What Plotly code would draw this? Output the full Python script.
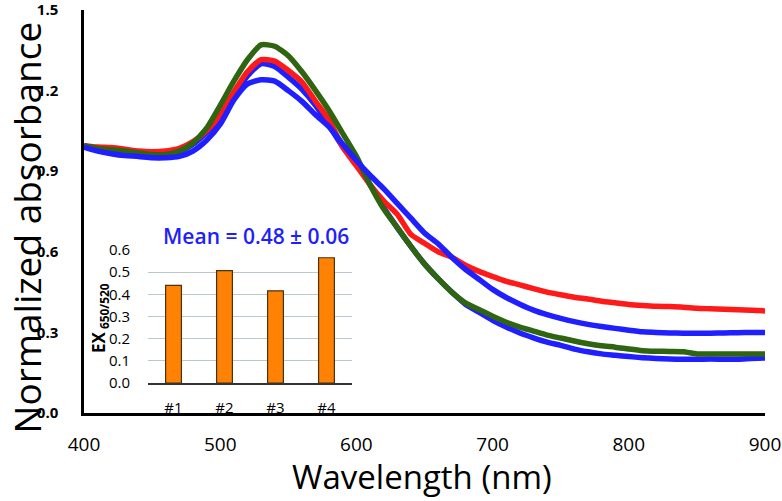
import plotly.graph_objects as go

wavelength = list(range(400, 901, 10))

red = [0.995, 0.99, 0.988, 0.982, 0.975, 0.972, 0.975, 0.985, 1.01, 1.05,
       1.11, 1.195, 1.27, 1.315, 1.31, 1.275, 1.232, 1.16, 1.09, 0.99,
       0.92, 0.85, 0.79, 0.74, 0.665, 0.632, 0.60, 0.58, 0.55, 0.527,
       0.508, 0.49, 0.477, 0.463, 0.45, 0.44, 0.431, 0.424, 0.416, 0.41,
       0.404, 0.40, 0.397, 0.396, 0.394, 0.39, 0.388, 0.386, 0.384, 0.382, 0.38]

green = [0.995, 0.985, 0.98, 0.975, 0.968, 0.962, 0.962, 0.975, 1.005, 1.06,
         1.145, 1.235, 1.315, 1.37, 1.365, 1.33, 1.27, 1.2, 1.125, 1.04,
         0.955, 0.85, 0.76, 0.69, 0.62, 0.555, 0.50, 0.45, 0.41, 0.385,
         0.36, 0.338, 0.32, 0.305, 0.29, 0.279, 0.268, 0.258, 0.25, 0.245,
         0.238, 0.232, 0.23, 0.229, 0.228, 0.22, 0.22, 0.22, 0.22, 0.22, 0.22]

blue_a = [0.99, 0.98, 0.975, 0.97, 0.965, 0.962, 0.962, 0.972, 1.0, 1.045,
          1.10, 1.18, 1.255, 1.30, 1.29, 1.25, 1.205, 1.145, 1.07, 0.99,
          0.93, 0.85, 0.765, 0.69, 0.62, 0.555, 0.50, 0.45, 0.405, 0.375,
          0.345, 0.32, 0.298, 0.28, 0.264, 0.252, 0.238, 0.228, 0.22, 0.215,
          0.21, 0.206, 0.203, 0.201, 0.20, 0.20, 0.201, 0.20, 0.20, 0.203, 0.205]

blue_b = [0.99, 0.975, 0.965, 0.958, 0.955, 0.95, 0.95, 0.955, 0.975, 1.015,
          1.075, 1.165, 1.225, 1.24, 1.235, 1.20, 1.16, 1.11, 1.065, 1.0,
          0.94, 0.885, 0.835, 0.78, 0.725, 0.67, 0.63, 0.58, 0.535, 0.498,
          0.46, 0.43, 0.405, 0.383, 0.366, 0.352, 0.34, 0.33, 0.322, 0.315,
          0.308, 0.302, 0.30, 0.298, 0.297, 0.297, 0.297, 0.298, 0.299, 0.30, 0.30]

samples = ["#1", "#2", "#3", "#4"]
ex_ratio = [0.44, 0.507, 0.416, 0.565]

x_ticks = [400, 500, 600, 700, 800, 900]
y_ticks = [0.0, 0.3, 0.6, 0.9, 1.2, 1.5]
inset_ticks = [0.0, 0.1, 0.2, 0.3, 0.4, 0.5, 0.6]

FONT = "Open Sans"
LW = 5.5

fig = go.Figure()
for ys, col in [(blue_a, "#1f1fff"), (red, "#ff1a1a"), (green, "#2f6410"), (blue_b, "#1f1fff")]:
    fig.add_trace(go.Scatter(x=wavelength, y=ys, mode="lines",
                             line=dict(color=col, width=LW, shape="spline", smoothing=0.6),
                             showlegend=False, xaxis="x", yaxis="y"))

fig.add_trace(go.Bar(x=samples, y=ex_ratio, xaxis="x2", yaxis="y2",
                     marker=dict(color="#ff8205", line=dict(color="#4a3210", width=1.2)),
                     showlegend=False))

fig.update_layout(
    width=782, height=501,
    margin=dict(l=84, r=17, t=10, b=88),
    paper_bgcolor="white", plot_bgcolor="white",
    font=dict(family=FONT, color="black"),
    bargap=0.69,
    xaxis=dict(range=[400, 900], tickvals=x_ticks, showline=True, linecolor="black",
               linewidth=2.5, showgrid=False, zeroline=False, ticks="outside",
               ticklen=12, tickcolor="rgba(0,0,0,0)", automargin=False,
               ticklabeloverflow="allow",
               tickfont=dict(family=FONT, size=19, color="black")),
    yaxis=dict(range=[0, 1.5], tickvals=y_ticks, tickformat=".1f", showline=True,
               linecolor="black", linewidth=2.5, showgrid=False, zeroline=False,
               ticks="outside", ticklen=20, tickcolor="rgba(0,0,0,0)", automargin=False,
               ticklabeloverflow="allow",
               tickfont=dict(family=FONT, size=15, color="black", weight="bold")),
    xaxis2=dict(domain=[0.094, 0.3935], anchor="y2", showline=True, linecolor="#333333",
                linewidth=1.5, showgrid=False, zeroline=False, ticks="outside",
                ticklen=10, tickcolor="rgba(0,0,0,0)", automargin=False,
                tickfont=dict(family=FONT, size=15, color="black")),
    yaxis2=dict(domain=[0.0744, 0.4045], anchor="x2", range=[0, 0.6], tickvals=inset_ticks,
                tickformat=".1f", showline=False, showgrid=True, gridcolor="#b9c9cd",
                gridwidth=1, zeroline=False, ticks="outside", ticklen=14,
                tickcolor="rgba(0,0,0,0)", automargin=False,
                tickfont=dict(family=FONT, size=15, color="black")),
    annotations=[
        dict(text="Wavelength (nm)", xref="paper", yref="paper", x=0.4963, y=-0.157,
             xanchor="center", yanchor="middle", showarrow=False,
             font=dict(family=FONT, size=33, color="black")),
        dict(text="Normalized absorbance", xref="paper", yref="paper", x=-0.0845, y=0.4615,
             xanchor="center", yanchor="middle", showarrow=False, textangle=-90,
             font=dict(family=FONT, size=37, color="black")),
        dict(text="Mean = 0.48 ± 0.06", xref="paper", yref="paper", x=0.2526, y=0.439,
             xanchor="center", yanchor="middle", showarrow=False,
             font=dict(family=FONT, size=21, color="#1e1eff", weight=600)),
        dict(text="<b>EX<sub> 650/520</sub></b>", xref="paper", yref="paper", x=0.022, y=0.2357,
             xanchor="center", yanchor="middle", showarrow=False, textangle=-90,
             font=dict(family=FONT, size=17, color="black")),
    ],
)

fig.write_html("out.html", config={"displayModeBar": False},
               post_script="document.body.style.margin='0';document.body.style.overflow='hidden';")
